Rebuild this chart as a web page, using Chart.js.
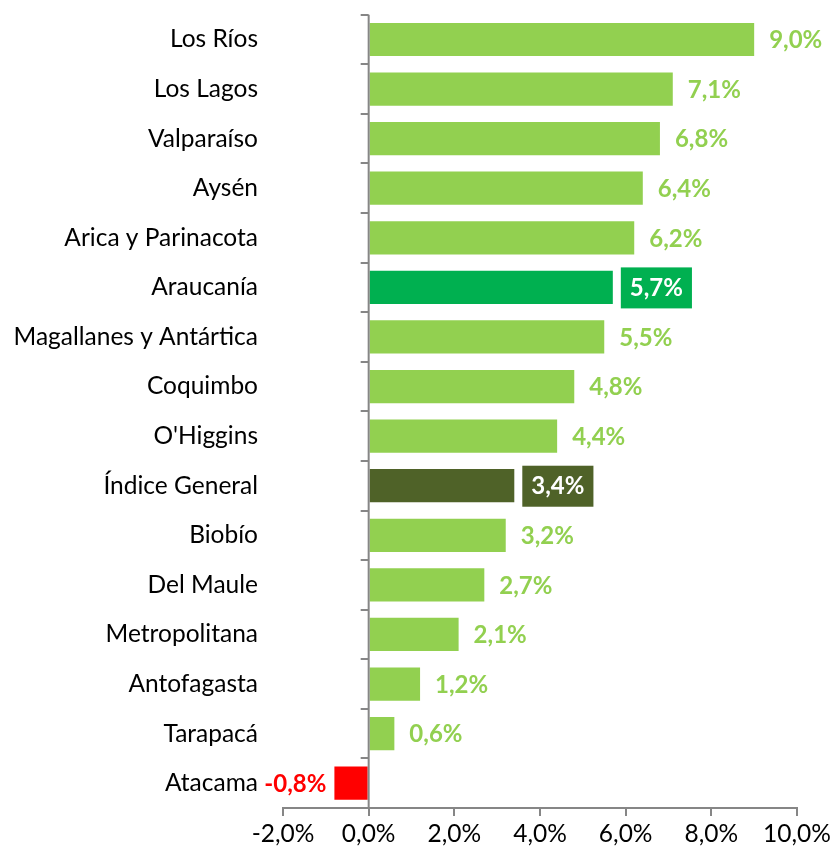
<!DOCTYPE html>
<html>
<head>
<meta charset="utf-8">
<script src="https://cdn.jsdelivr.net/npm/chart.js@4.4.1/dist/chart.umd.min.js"></script>
<style>
  html, body { margin: 0; padding: 0; background: #fff; }
  canvas { display: block; }
</style>
</head>
<body>
<canvas id="chart" width="835" height="853"></canvas>
<script>
const regions = ['Los Ríos', 'Los Lagos', 'Valparaíso', 'Aysén', 'Arica y Parinacota', 'Araucanía',
  'Magallanes y Antártica', 'Coquimbo', "O'Higgins", 'Índice General', 'Biobío', 'Del Maule',
  'Metropolitana', 'Antofagasta', 'Tarapacá', 'Atacama'];
const values = [9.0, 7.1, 6.8, 6.4, 6.2, 5.7, 5.5, 4.8, 4.4, 3.4, 3.2, 2.7, 2.1, 1.2, 0.6, -0.8];
const xTicks = [-2, 0, 2, 4, 6, 8, 10];

const FONT = 'Lato';
const GREEN = '#92D050';
const AXIS = '#868686';
// highlighted rows get their own colour and a boxed label
const highlight = { 'Araucanía': '#00B050', 'Índice General': '#4F6228' };

const fmt = v => v.toFixed(1).replace('.', ',') + '%';

const barColors = regions.map((r, i) => values[i] < 0 ? '#FF0000' : (highlight[r] || GREEN));

const labelPlugin = {
  id: 'barLabels',
  afterDatasetsDraw(chart) {
    const ctx = chart.ctx;
    const area = chart.chartArea;
    const x0 = chart.scales.x.getPixelForValue(0);
    ctx.save();
    // vertical axis at zero
    ctx.strokeStyle = AXIS;
    ctx.lineWidth = 2;
    ctx.beginPath();
    ctx.moveTo(x0, area.top);
    ctx.lineTo(x0, area.bottom);
    ctx.stroke();
    // category tick marks
    const step = (area.bottom - area.top) / regions.length;
    for (let i = 0; i < regions.length; i++) {
      const py = Math.round(area.top + step * i);
      ctx.beginPath();
      ctx.moveTo(x0 - 8, py);
      ctx.lineTo(x0, py);
      ctx.stroke();
    }

    ctx.font = 'bold 24px ' + FONT;
    ctx.textBaseline = 'middle';
    chart.getDatasetMeta(0).data.forEach((bar, i) => {
      const v = values[i];
      const txt = fmt(v);
      const w = ctx.measureText(txt).width;
      if (v < 0) {
        ctx.textAlign = 'right';
        ctx.fillStyle = '#FF0000';
        ctx.fillText(txt, bar.x - 8, bar.y + 1);
      } else if (highlight[regions[i]]) {
        ctx.fillStyle = highlight[regions[i]];
        ctx.fillRect(bar.x + 8, bar.y - 20, w + 18, 41);
        ctx.textAlign = 'left';
        ctx.fillStyle = '#fff';
        ctx.fillText(txt, bar.x + 17, bar.y + 1);
      } else {
        ctx.textAlign = 'left';
        ctx.fillStyle = GREEN;
        ctx.fillText(txt, bar.x + 15, bar.y + 1);
      }
    });
    ctx.restore();
  }
};

new Chart(document.getElementById('chart').getContext('2d'), {
  type: 'bar',
  data: {
    labels: regions,
    datasets: [{
      data: values,
      backgroundColor: barColors,
      borderWidth: 0,
      categoryPercentage: 1,
      barPercentage: 0.67
    }]
  },
  options: {
    indexAxis: 'y',
    responsive: false,
    animation: false,
    devicePixelRatio: 1,
    layout: { padding: { top: 12, right: 38, left: 0, bottom: 0 } },
    plugins: {
      legend: { display: false },
      tooltip: { enabled: false }
    },
    scales: {
      x: {
        min: -2,
        max: 10,
        afterBuildTicks(scale) { scale.ticks = xTicks.map(v => ({ value: v })); },
        afterFit(scale) { scale.height = 45; },
        grid: { display: true, drawOnChartArea: false, drawTicks: true, tickLength: 8, color: AXIS, lineWidth: 2 },
        border: { display: true, color: AXIS, width: 2 },
        ticks: {
          padding: 3,
          color: '#000',
          font: { family: FONT, size: 24.5 },
          callback: v => fmt(v)
        }
      },
      y: {
        afterFit(scale) { scale.width = 283; },
        // invisible tick marks only push the labels away from the plot
        grid: { display: true, drawOnChartArea: false, drawTicks: true, tickLength: 25, color: 'rgba(0,0,0,0)' },
        border: { display: false },
        ticks: {
          padding: 0,
          color: '#000',
          font: { family: FONT, size: 24.5 },
          autoSkip: false
        }
      }
    }
  },
  plugins: [labelPlugin]
});
</script>
</body>
</html>
